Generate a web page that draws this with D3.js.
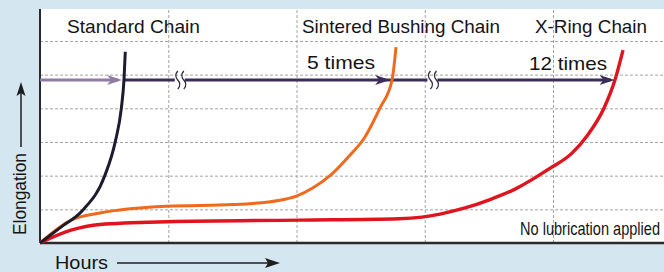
<!DOCTYPE html>
<html>
<head>
<meta charset="utf-8">
<script src="https://cdn.jsdelivr.net/npm/d3@7"></script>
<style>
  body { margin: 0; background: #d4e7f1; }
  svg { display: block; font-family: "Liberation Sans", Arial, sans-serif; }
</style>
</head>
<body>
<svg id="svg" width="664" height="272"></svg>
<script>
// chain names and the "how much longer" labels
let chainNames = ["Standard Chain", "Sintered Bushing Chain", "X-Ring Chain"];
let lifeLabels = ["5 times", "12 times"];
let noteText = "No lubrication applied";

// grid ticks (hours / elongation units)
let hourTicks = [1, 2, 3, 4];
let elongTicks = [1, 2, 3, 4, 5, 6];

// curves: [hours, elongation]
let standardChain = [[0, 0], [0.166, 0.48], [0.335, 0.98], [0.504, 1.99], [0.587, 3.01],
    [0.634, 4.0], [0.655, 4.86], [0.665, 5.68]];
let sinteredChain = [[0, 0], [0.244, 0.68], [0.468, 0.89], [0.99, 1.09], [1.505, 1.14],
    [1.871, 1.27], [2.004, 1.4], [2.129, 1.64], [2.261, 2.0], [2.402, 2.55],
    [2.534, 3.15], [2.651, 4.01], [2.745, 4.84], [2.776, 5.82]];
let xRingChain = [[0, 0], [0.241, 0.38], [0.468, 0.55], [0.99, 0.63], [2.027, 0.68],
    [2.8, 0.72], [2.979, 0.77], [3.119, 0.86], [3.314, 1.04], [3.509, 1.29],
    [3.704, 1.6], [3.969, 2.2], [4.148, 2.67], [4.265, 3.18], [4.398, 4.01],
    [4.483, 4.84], [4.546, 5.73]];

// life arrow: elongation level, where the arrowheads point, where the axis is broken
let arrowLevel = 4.84;
let arrowTips = [0.64, 2.73, 4.48];
let breakHours = [1.09, 3.06];

let svg = d3.select("#svg");
const plotLeft = 40, plotRight = 664, plotTop = 9, plotBottom = 243;

let xScale = d3.scaleLinear().domain([0, (plotRight - plotLeft) / 128.25]).range([plotLeft, plotRight]);
let yScale = d3.scaleLinear().domain([0, (plotBottom - plotTop) / 33.67]).range([plotBottom, plotTop]);

// plot background
svg.append("rect")
    .attr("x", plotLeft).attr("y", plotTop)
    .attr("width", plotRight - plotLeft).attr("height", plotBottom - plotTop)
    .attr("fill", "#ffffff");

// grid
let gx = svg.append("g")
    .attr("transform", `translate(0,${plotBottom})`)
    .call(d3.axisBottom(xScale).tickValues(hourTicks).tickSize(-(plotBottom - plotTop)).tickFormat(""));
let gy = svg.append("g")
    .attr("transform", `translate(${plotLeft},0)`)
    .call(d3.axisLeft(yScale).tickValues(elongTicks).tickSize(-(plotRight - plotLeft)).tickFormat(""));
[gx, gy].forEach(g => {
    g.select(".domain").remove();
    g.selectAll("line")
        .attr("stroke", "#a3a3a3")
        .attr("stroke-width", 1)
        .attr("stroke-dasharray", "3,2");
});

// axes lines
svg.append("line")
    .attr("x1", plotLeft).attr("x2", plotLeft).attr("y1", plotTop).attr("y2", plotBottom)
    .attr("stroke", "#2a2a2a").attr("stroke-width", 2);
svg.append("line")
    .attr("x1", plotLeft).attr("x2", plotRight).attr("y1", plotBottom).attr("y2", plotBottom)
    .attr("stroke", "#2a2a2a").attr("stroke-width", 2.5);

// curves
let line = d3.line()
    .x(d => xScale(d[0]))
    .y(d => yScale(d[1]))
    .curve(d3.curveMonotoneX);

let curves = [
    { data: sinteredChain, color: "#f06a1e", width: 3 },
    { data: xRingChain, color: "#e0141e", width: 3.4 },
    { data: standardChain, color: "#1e1a30", width: 3 }
];

// life arrow shaft
let ay = yScale(arrowLevel);
svg.append("line")
    .attr("x1", plotLeft).attr("x2", xScale(arrowTips[0]) - 4)
    .attr("y1", ay).attr("y2", ay)
    .attr("stroke", "#8f7ba3").attr("stroke-width", 3);
svg.append("line")
    .attr("x1", xScale(arrowTips[0]) + 1).attr("x2", xScale(arrowTips[2]) - 4)
    .attr("y1", ay).attr("y2", ay)
    .attr("stroke", "#3b2d58").attr("stroke-width", 3);

function arrowHead(tipX, tipY, color) {
    svg.append("path")
        .attr("d", `M${tipX},${tipY} L${tipX - 15},${tipY - 5} L${tipX - 11},${tipY} L${tipX - 15},${tipY + 5} Z`)
        .attr("fill", color);
}

curves.forEach(c => {
    svg.append("path")
        .datum(c.data)
        .attr("d", line)
        .attr("fill", "none")
        .attr("stroke", c.color)
        .attr("stroke-width", c.width)
        .attr("stroke-linecap", "butt");
});

arrowHead(xScale(arrowTips[0]), ay, "#8f7ba3");
arrowHead(xScale(arrowTips[1]), ay, "#3b2d58");
arrowHead(xScale(arrowTips[2]), ay, "#3b2d58");

// break marks
breakHours.forEach(h => {
    let bx = xScale(h);
    svg.append("rect")
        .attr("x", bx - 5).attr("y", ay - 3)
        .attr("width", 10).attr("height", 6)
        .attr("fill", "#ffffff");
    [-3, 3].forEach(off => {
        let x0 = bx + off;
        svg.append("path")
            .attr("d", `M${x0 + 1},${ay - 9} q-4,4.5 0,9 q4,4.5 0,9`)
            .attr("fill", "none")
            .attr("stroke", "#2a2a3a")
            .attr("stroke-width", 1.3);
    });
});

// labels
let labelSpecs = [
    { text: chainNames[0], x: 67, y: 33, len: 133, size: 19 },
    { text: chainNames[1], x: 302, y: 33, len: 198, size: 19 },
    { text: chainNames[2], x: 535, y: 33, len: 112, size: 19 },
    { text: lifeLabels[0], x: 307, y: 69, len: 68, size: 19 },
    { text: lifeLabels[1], x: 529, y: 70, len: 78, size: 19 },
    { text: noteText, x: 520, y: 235, len: 140, size: 19 }
];
svg.selectAll(".lbl")
    .data(labelSpecs)
    .enter().append("text")
    .attr("class", "lbl")
    .attr("x", d => d.x)
    .attr("y", d => d.y)
    .attr("textLength", d => d.len)
    .attr("lengthAdjust", "spacingAndGlyphs")
    .style("font-size", d => d.size + "px")
    .style("fill", "#141414")
    .text(d => d.text);

// axis titles with arrows
svg.append("text")
    .attr("transform", "translate(26,235) rotate(-90)")
    .attr("textLength", 82)
    .attr("lengthAdjust", "spacingAndGlyphs")
    .style("font-size", "18px")
    .style("fill", "#141414")
    .text("Elongation");
svg.append("line")
    .attr("x1", 21).attr("x2", 21).attr("y1", 147).attr("y2", 92)
    .attr("stroke", "#1e1e1e").attr("stroke-width", 1.5);
svg.append("path")
    .attr("d", "M21,82 L16.5,96 L21,93 L25.5,96 Z")
    .attr("fill", "#1e1e1e");

svg.append("text")
    .attr("x", 55).attr("y", 269)
    .attr("textLength", 53)
    .attr("lengthAdjust", "spacingAndGlyphs")
    .style("font-size", "19px")
    .style("fill", "#141414")
    .text("Hours");
svg.append("line")
    .attr("x1", 117).attr("x2", 270).attr("y1", 263).attr("y2", 263)
    .attr("stroke", "#1e1e1e").attr("stroke-width", 1.5);
svg.append("path")
    .attr("d", "M280,263 L265,258 L268,263 L265,268 Z")
    .attr("fill", "#1e1e1e");
</script>
</body>
</html>
